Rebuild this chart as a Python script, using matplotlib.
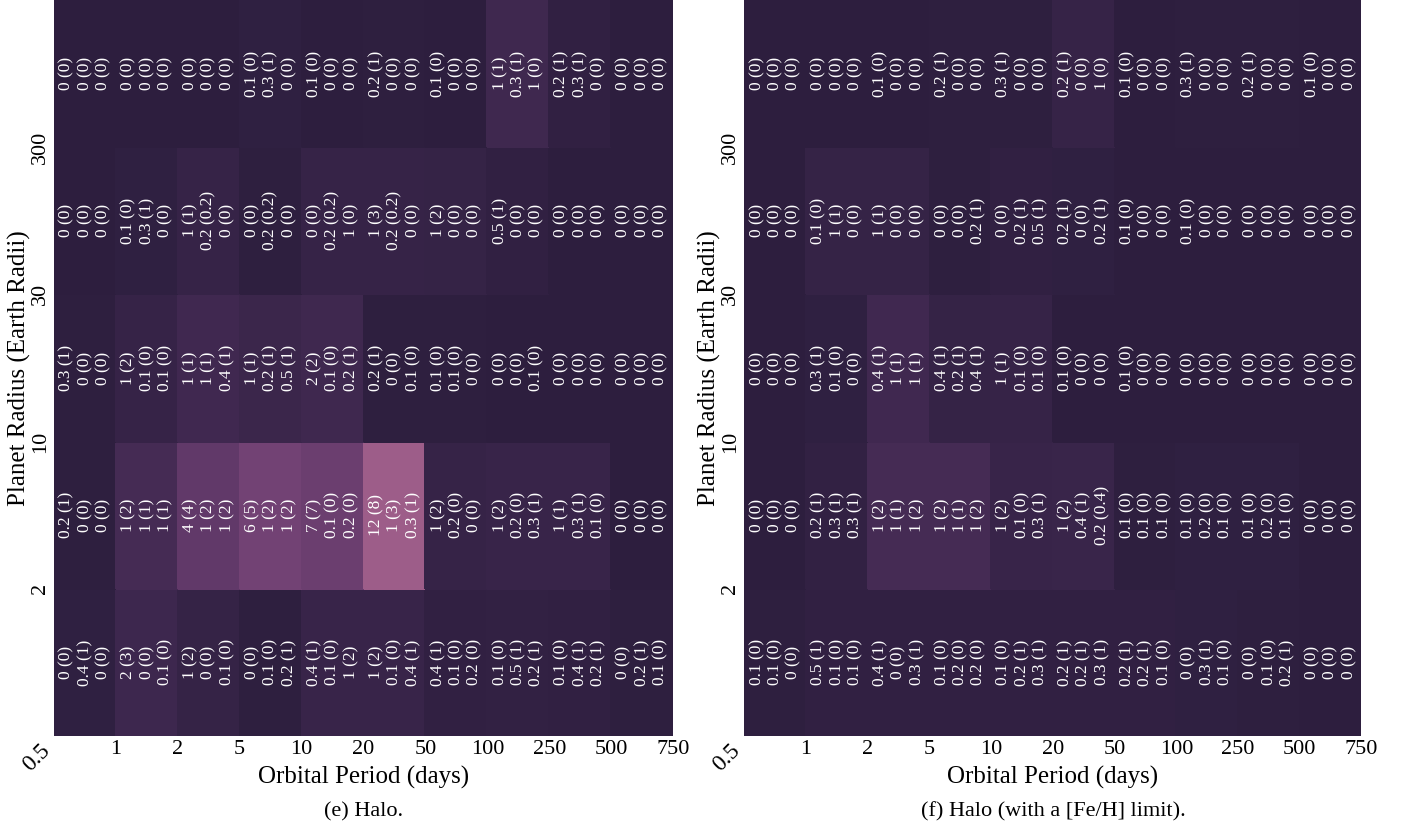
import numpy as np
import matplotlib
matplotlib.use('Agg')
import matplotlib.pyplot as plt
import seaborn as sns

plt.rcParams['font.family'] = ['Liberation Serif', 'DejaVu Serif']

period_labels = ['0.5', '1', '2', '5', '10', '20', '50', '100', '250', '500', '750']
radius_labels = ['0.5', '2', '10', '30', '300']

# rows = radius bins (bottom -> top), columns = period bins
# every cell shows three lines "value (bracket)"
halo_v1 = [[0, 2, 1, 0, 0.4, 1, 0.4, 0.1, 0.1, 0],
           [0.2, 1, 4, 6, 7, 12, 1, 1, 1, 0],
           [0.3, 1, 1, 1, 2, 0.2, 0.1, 0, 0, 0],
           [0, 0.1, 1, 0, 0, 1, 1, 0.5, 0, 0],
           [0, 0, 0, 0.1, 0.1, 0.2, 0.1, 1, 0.2, 0]]
halo_p1 = [[0, 3, 2, 0, 1, 2, 1, 0, 0, 0],
           [1, 2, 4, 5, 7, 8, 2, 2, 1, 0],
           [1, 2, 1, 1, 2, 1, 0, 0, 0, 0],
           [0, 0, 1, 0, 0, 3, 2, 1, 0, 0],
           [0, 0, 0, 0, 0, 1, 0, 1, 1, 0]]
halo_v2 = [[0.4, 0, 0, 0.1, 0.1, 0.1, 0.1, 0.5, 0.4, 0.2],
           [0, 1, 1, 1, 0.1, 1, 0.2, 0.2, 0.3, 0],
           [0, 0.1, 1, 0.2, 0.1, 0, 0.1, 0, 0, 0],
           [0, 0.3, 0.2, 0.2, 0.2, 0.2, 0, 0, 0, 0],
           [0, 0, 0, 0.3, 0, 0, 0, 0.3, 0.3, 0]]
halo_p2 = [[1, 0, 0, 0, 0, 0, 0, 1, 1, 1],
           [0, 1, 2, 2, 0, 3, 0, 0, 1, 0],
           [0, 0, 1, 1, 0, 0, 0, 0, 0, 0],
           [0, 1, 0.2, 0.2, 0.2, 0.2, 0, 0, 0, 0],
           [0, 0, 0, 1, 0, 0, 0, 1, 1, 0]]
halo_v3 = [[0, 0.1, 0.1, 0.2, 1, 0.4, 0.2, 0.2, 0.2, 0.1],
           [0, 1, 1, 1, 0.2, 0.3, 0, 0.3, 0.1, 0],
           [0, 0.1, 0.4, 0.5, 0.2, 0.1, 0, 0.1, 0, 0],
           [0, 0, 0, 0, 1, 0, 0, 0, 0, 0],
           [0, 0, 0, 0, 0, 0, 0, 1, 0, 0]]
halo_p3 = [[0, 0, 0, 1, 2, 1, 0, 1, 1, 0],
           [0, 1, 2, 2, 0, 1, 0, 1, 0, 0],
           [0, 0, 1, 1, 1, 0, 0, 0, 0, 0],
           [0, 0, 0, 0, 0, 0, 0, 0, 0, 0],
           [0, 0, 0, 0, 0, 0, 0, 0, 0, 0]]

feh_v1 = [[0.1, 0.5, 0.4, 0.1, 0.1, 0.2, 0.2, 0, 0, 0],
          [0, 0.2, 1, 1, 1, 1, 0.1, 0.1, 0.1, 0],
          [0, 0.3, 0.4, 0.4, 1, 0.1, 0.1, 0, 0, 0],
          [0, 0.1, 1, 0, 0, 0.2, 0.1, 0.1, 0, 0],
          [0, 0, 0.1, 0.2, 0.3, 0.2, 0.1, 0.3, 0.2, 0.1]]
feh_p1 = [[0, 1, 1, 0, 0, 1, 1, 0, 0, 0],
          [0, 1, 2, 2, 2, 2, 0, 0, 0, 0],
          [0, 1, 1, 1, 1, 0, 0, 0, 0, 0],
          [0, 0, 1, 0, 0, 1, 0, 0, 0, 0],
          [0, 0, 0, 1, 1, 1, 0, 1, 1, 0]]
feh_v2 = [[0.1, 0.1, 0, 0.2, 0.2, 0.2, 0.2, 0.3, 0.1, 0],
          [0, 0.3, 1, 1, 0.1, 0.4, 0.1, 0.2, 0.2, 0],
          [0, 0.1, 1, 0.2, 0.1, 0, 0, 0, 0, 0],
          [0, 1, 0, 0, 0.2, 0, 0, 0, 0, 0],
          [0, 0, 0, 0, 0, 0, 0, 0, 0, 0]]
feh_p2 = [[0, 0, 0, 0, 1, 1, 1, 1, 0, 0],
          [0, 1, 1, 1, 0, 1, 0, 0, 0, 0],
          [0, 0, 1, 1, 0, 0, 0, 0, 0, 0],
          [0, 1, 0, 0, 1, 0, 0, 0, 0, 0],
          [0, 0, 0, 0, 0, 0, 0, 0, 0, 0]]
feh_v3 = [[0, 0.1, 0.3, 0.2, 0.3, 0.3, 0.1, 0.1, 0.2, 0],
          [0, 0.3, 1, 1, 0.3, 0.2, 0.1, 0.1, 0.1, 0],
          [0, 0, 1, 0.4, 0.1, 0, 0, 0, 0, 0],
          [0, 0, 0, 0.2, 0.5, 0.2, 0, 0, 0, 0],
          [0, 0, 0, 0, 0, 1, 0, 0, 0, 0]]
feh_p3 = [[0, 0, 1, 0, 1, 1, 0, 0, 1, 0],
          [0, 1, 2, 2, 1, 0.4, 0, 0, 0, 0],
          [0, 0, 1, 1, 0, 0, 0, 0, 0, 0],
          [0, 0, 0, 1, 1, 1, 0, 0, 0, 0],
          [0, 0, 0, 0, 0, 0, 0, 0, 0, 0]]

cmap = sns.cubehelix_palette(as_cmap=True, reverse=True)
VMAX = 30


def draw_panel(ax, lines, caption):
    v1, p1, v2, p2, v3, p3 = [np.array(a, dtype=float) for a in lines]
    total = v1 + v2 + v3  # cell colour
    ax.pcolormesh(np.arange(11), np.arange(6), total, cmap=cmap, vmin=0, vmax=VMAX,
                  edgecolors='face', linewidth=0.3, antialiased=False)
    for r in range(5):
        for c in range(10):
            txt = '\n'.join('{:g} ({:g})'.format(v[r, c], p[r, c])
                            for v, p in ((v1, p1), (v2, p2), (v3, p3)))
            ax.text(c + 0.5, r + 0.5, txt, rotation=90, ha='center', va='center',
                    multialignment='center', color='white', fontsize=12.5,
                    linespacing=1.2)
    ax.set_xlim(0, 10)
    ax.set_ylim(0, 5)
    ax.set_xticks(np.arange(11))
    ax.set_xticklabels(period_labels, fontsize=16)
    ax.set_yticks(np.arange(5))
    ax.set_yticklabels(radius_labels, fontsize=16, rotation=90, va='center')
    ax.tick_params(length=0, pad=3)
    lab0 = ax.get_xticklabels()[0]
    lab0.set_rotation(45)
    lab0.set_ha('right')
    lab0.set_fontsize(17)
    ax.get_yticklabels()[0].set_visible(False)
    for s in ax.spines.values():
        s.set_visible(False)
    ax.set_xlabel('Orbital Period (days)', fontsize=18, labelpad=-7)
    ax.set_ylabel('Planet Radius (Earth Radii)', fontsize=18, labelpad=0)
    ax.text(0.5, -0.09, caption, transform=ax.transAxes, ha='center', va='top',
            fontsize=16)


fig = plt.figure(figsize=(14.11, 8.34), dpi=100)
ax1 = fig.add_axes([0.0383, 0.1175, 0.4387, 0.8825])
ax2 = fig.add_axes([0.5276, 0.1175, 0.4373, 0.8825])

draw_panel(ax1, [halo_v1, halo_p1, halo_v2, halo_p2, halo_v3, halo_p3], '(e) Halo.')
draw_panel(ax2, [feh_v1, feh_p1, feh_v2, feh_p2, feh_v3, feh_p3],
           '(f) Halo (with a [Fe/H] limit).')

fig.savefig('out.png', dpi=100)
